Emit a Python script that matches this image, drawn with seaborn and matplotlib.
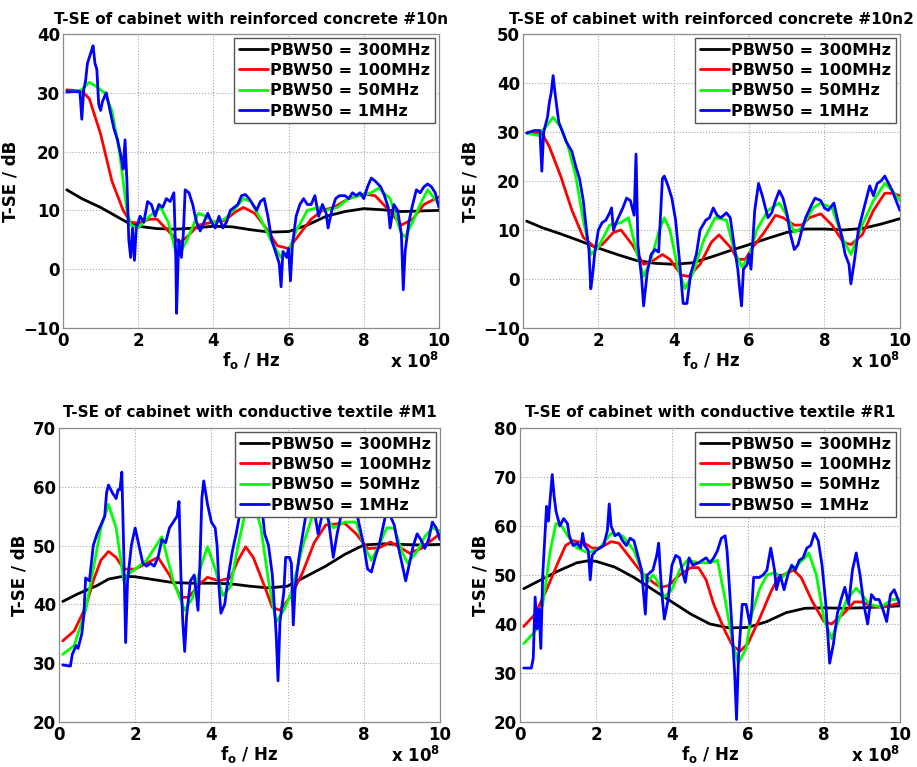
import numpy as np
import pandas as pd
import seaborn as sns
import matplotlib
matplotlib.use("Agg")
import matplotlib.pyplot as plt

# frequency in units of 1e8 Hz, T-SE in dB
# ---- panel 1: reinforced concrete #10n
c1_k_x = [0.1, 0.5, 1.0, 1.5, 1.7, 2.0, 2.5, 3.0, 3.5, 4.0, 4.5, 5.0, 5.5, 6.0, 6.5, 7.0, 7.5, 8.0, 8.5, 9.0, 9.5, 10.0]
c1_k_y = [13.5, 12.0, 10.5, 8.7, 8.0, 7.3, 6.9, 6.8, 7.0, 7.3, 7.2, 6.7, 6.3, 6.4, 7.5, 9.0, 9.8, 10.3, 10.1, 9.8, 9.9, 10.0]
c1_r_x = [0.1, 0.5, 0.7, 1.0, 1.3, 1.6, 1.8, 2.0, 2.3, 2.5, 2.8, 3.1, 3.3, 3.6, 4.0, 4.3, 4.6, 4.8, 5.1, 5.4, 5.7, 6.0, 6.3, 6.6, 6.9, 7.2, 7.6, 8.0, 8.3, 8.6, 9.0, 9.3, 9.6, 10.0]
c1_r_y = [30.5, 30.3, 29.0, 23.0, 15.0, 10.0, 8.0, 7.8, 8.5, 8.5, 6.5, 4.5, 5.5, 7.5, 8.0, 8.3, 9.8, 10.5, 9.5, 7.0, 4.0, 3.5, 6.0, 8.5, 10.0, 10.5, 12.0, 12.8, 12.5, 10.5, 7.5, 8.5, 11.0, 12.3]
c1_g_x = [0.1, 0.5, 0.7, 0.9, 1.1, 1.3, 1.5, 1.7, 1.8, 2.0, 2.3, 2.6, 2.8, 3.0, 3.1, 3.3, 3.6, 3.8, 4.0, 4.3, 4.6, 4.8, 5.0, 5.3, 5.6, 5.8, 6.0, 6.2, 6.5, 6.8, 7.0, 7.3, 7.6, 7.9, 8.2, 8.4, 8.7, 9.0, 9.1, 9.3, 9.5, 9.7, 10.0]
c1_g_y = [30.0, 30.5, 31.8, 31.0, 30.0, 27.0, 20.0, 10.0, 7.5, 7.0, 9.0, 10.5, 8.0, 3.0, 2.5, 5.0, 9.5, 9.0, 8.0, 8.5, 10.5, 12.0, 11.5, 8.0, 4.0, 2.0, 3.0, 6.5, 10.0, 10.5, 10.0, 10.5, 12.0, 12.5, 13.0, 13.8, 12.0, 6.0, 5.5, 8.0, 11.0, 13.5, 11.0]
c1_b_x = [0.1, 0.45, 0.5, 0.55, 0.6, 0.65, 0.75, 0.8, 0.85, 0.9, 0.95, 1.0, 1.05, 1.15, 1.25, 1.35, 1.45, 1.55, 1.6, 1.65, 1.7, 1.75, 1.8, 1.85, 1.9, 1.95, 2.05, 2.15, 2.25, 2.35, 2.45, 2.55, 2.65, 2.75, 2.85, 2.95, 3.0, 3.02, 3.08, 3.15, 3.2, 3.25, 3.35, 3.45, 3.55, 3.65, 3.75, 3.85, 3.95, 4.05, 4.15, 4.25, 4.35, 4.45, 4.55, 4.65, 4.75, 4.85, 4.95, 5.05, 5.15, 5.25, 5.35, 5.45, 5.55, 5.65, 5.75, 5.8, 5.85, 5.95, 6.0, 6.05, 6.1, 6.2, 6.3, 6.4, 6.5, 6.6, 6.7, 6.8, 6.9, 7.0, 7.05, 7.15, 7.25, 7.35, 7.5, 7.6, 7.7, 7.8, 7.9, 8.0, 8.1, 8.2, 8.3, 8.45, 8.55, 8.65, 8.7, 8.8, 8.9, 9.0, 9.05, 9.1, 9.2, 9.3, 9.4, 9.5, 9.6, 9.7, 9.8, 9.9, 10.0]
c1_b_y = [30.2, 30.2, 25.5, 30.5, 32.0, 35.0, 37.0, 38.0, 35.0, 34.0, 28.0, 27.0, 28.5, 30.0, 27.0, 24.0, 22.0, 19.0, 17.0, 22.0, 15.0, 5.0, 2.0, 7.0, 1.5, 7.0, 9.0, 8.0, 11.5, 11.0, 9.0, 11.0, 10.5, 12.0, 11.5, 13.0, 2.0, -7.5, 5.0, 2.0, 6.0, 13.5, 13.0, 11.0, 8.0, 6.5, 8.0, 9.5, 8.0, 7.0, 9.0, 7.0, 8.0, 10.0, 10.5, 11.0, 12.5, 12.7, 12.0, 11.0, 10.0, 11.5, 12.0, 9.0, 5.0, 3.0, 1.0, -3.0, 3.0, 2.0, 3.5, -2.0, 4.0, 9.0, 11.0, 12.0, 11.0, 11.0, 12.5, 9.0, 11.0, 9.5, 7.0, 10.0, 12.0, 12.5, 12.5, 12.0, 13.0, 12.5, 13.0, 12.0, 14.0, 15.5, 15.0, 14.0, 12.5, 10.5, 7.0, 11.0, 10.0, 6.0, -3.5, 3.0, 8.0, 11.0, 13.5, 13.0, 14.0, 14.5, 14.0, 13.0, 10.5]

# ---- panel 2: reinforced concrete #10n2
c2_k_x = [0.1, 0.5, 1.0, 1.5, 2.0, 2.5, 3.0, 3.5, 4.0, 4.5, 5.0, 5.5, 6.0, 6.5, 7.0, 7.5, 8.0, 8.5, 9.0, 9.5, 10.0]
c2_k_y = [11.8, 10.5, 9.2, 7.8, 6.3, 5.0, 3.8, 3.2, 3.0, 3.3, 4.5, 5.8, 7.0, 8.3, 9.5, 10.2, 10.2, 10.0, 10.3, 11.2, 12.3]
c2_r_x = [0.1, 0.5, 0.7, 1.0, 1.3, 1.6, 1.9, 2.1, 2.4, 2.6, 2.9, 3.2, 3.4, 3.7, 3.9, 4.2, 4.4, 4.7, 5.0, 5.2, 5.5, 5.7, 5.9, 6.1, 6.4, 6.7, 6.9, 7.2, 7.4, 7.6, 7.9, 8.2, 8.5, 8.7, 9.0, 9.3, 9.6, 9.8, 10.0]
c2_r_y = [29.8, 29.8, 27.0, 21.0, 14.0, 8.5, 6.5, 7.0, 9.5, 10.0, 7.0, 3.0, 3.5, 5.0, 4.0, 0.8, 0.5, 3.0, 7.5, 9.0, 6.5, 4.0, 4.0, 6.5, 9.5, 13.0, 12.5, 11.0, 11.0, 12.5, 13.3, 11.0, 7.5, 7.0, 9.0, 14.0, 17.5, 17.5, 17.0]
c2_g_x = [0.1, 0.4, 0.6, 0.8, 1.0, 1.2, 1.4, 1.6, 1.8, 2.0, 2.3, 2.6, 2.8, 3.0, 3.2, 3.4, 3.6, 3.75, 3.9, 4.1, 4.3, 4.5, 4.8, 5.1, 5.4, 5.6, 5.8, 6.0, 6.2, 6.5, 6.8, 7.0, 7.2, 7.4, 7.7, 7.9, 8.2, 8.5, 8.7, 9.0, 9.3, 9.6, 9.8, 10.0]
c2_g_y = [29.7, 29.3, 31.0, 33.0, 31.0, 27.0, 21.0, 12.0, 5.0, 6.5, 11.0, 11.5, 12.5, 6.0, 0.5, 4.0, 9.5, 12.5, 10.0, 2.5, -2.0, 1.0, 8.0, 12.5, 12.0, 6.0, 2.5, 4.5, 10.0, 14.0, 15.5, 13.0, 9.5, 10.5, 14.5, 15.5, 14.5, 8.0, 5.0, 11.0, 16.0, 19.5, 18.0, 16.0]
c2_b_x = [0.1, 0.3, 0.45, 0.5, 0.55, 0.65, 0.7, 0.75, 0.8, 0.85, 0.9, 0.95, 1.05, 1.15, 1.3, 1.4, 1.5, 1.6, 1.7, 1.75, 1.8, 1.85, 1.9, 2.0, 2.1, 2.2, 2.3, 2.35, 2.4, 2.5, 2.65, 2.75, 2.85, 2.95, 3.0, 3.05, 3.15, 3.2, 3.3, 3.4, 3.5, 3.6, 3.7, 3.75, 3.85, 3.95, 4.05, 4.15, 4.25, 4.35, 4.45, 4.6, 4.7, 4.85, 4.95, 5.05, 5.15, 5.25, 5.4, 5.5, 5.6, 5.7, 5.75, 5.8, 5.85, 5.95, 6.0, 6.05, 6.15, 6.25, 6.35, 6.5, 6.6, 6.7, 6.8, 6.9, 7.0, 7.1, 7.2, 7.3, 7.4, 7.5, 7.65, 7.75, 7.9, 8.0, 8.1, 8.25, 8.35, 8.45, 8.55, 8.65, 8.7, 8.8, 8.9, 9.0, 9.1, 9.2, 9.3, 9.4, 9.5, 9.6, 9.7, 9.8, 9.9, 10.0]
c2_b_y = [29.8, 30.3, 30.3, 22.0, 30.0, 33.0, 36.0, 38.0, 41.5, 38.0, 35.0, 32.0, 30.0, 28.0, 26.0, 23.0, 20.5, 16.0, 9.0, 6.0, -2.0, 1.0, 5.0, 10.0, 11.5, 12.0, 13.5, 14.5, 10.0, 12.0, 14.5, 16.5, 16.0, 13.0, 25.5, 7.0, 0.0, -5.5, 1.5, 5.0, 6.0, 5.5, 20.5, 21.0, 19.0, 16.5, 12.0, 4.0, -5.0, -5.0, 1.0, 5.0, 10.0, 12.0, 12.5, 14.5, 13.0, 12.5, 13.5, 12.5, 7.0, 2.0, -2.0, -5.5, 2.0, 3.0, 5.0, 2.0, 14.0, 19.5, 17.0, 12.5, 13.5, 16.0, 18.0, 16.5, 13.5, 9.0, 6.0, 7.0, 10.0, 12.5, 15.0, 16.5, 16.0, 14.5, 14.0, 15.5, 12.0, 9.0, 5.0, 3.0, -1.0, 4.0, 10.0, 13.0, 16.0, 19.0, 17.0, 19.5, 20.0, 21.0, 19.5, 18.0, 16.0, 14.0]

# ---- panel 3: conductive textile #M1
c3_k_x = [0.1, 0.5, 1.0, 1.3, 1.7, 2.0, 2.5, 3.0, 3.5, 4.0, 4.5, 5.0, 5.5, 6.0, 6.5, 7.0, 7.5, 8.0, 8.5, 9.0, 9.5, 10.0]
c3_k_y = [40.5, 41.8, 43.2, 44.3, 44.8, 44.7, 44.2, 43.7, 43.6, 43.6, 43.5, 43.1, 42.8, 43.1, 44.8, 46.5, 48.5, 50.1, 50.3, 50.2, 50.1, 50.2]
c3_r_x = [0.1, 0.4, 0.7, 0.9, 1.1, 1.3, 1.5, 1.7, 2.0, 2.3, 2.6, 2.9, 3.2, 3.4, 3.7, 3.9, 4.2, 4.5, 4.7, 4.9, 5.1, 5.4, 5.6, 5.8, 6.1, 6.4, 6.7, 7.0, 7.3, 7.5, 7.8, 8.1, 8.4, 8.7, 9.0, 9.2, 9.5, 9.8, 10.0]
c3_r_y = [33.8, 35.5, 39.5, 44.0, 47.5, 49.0, 48.0, 46.0, 46.0, 47.0, 48.0, 45.0, 41.2, 41.2, 43.5, 44.6, 44.0, 44.5, 47.5, 49.8, 48.0, 43.0, 39.5, 39.0, 41.5, 45.5, 50.5, 53.5, 53.7, 53.8, 52.0, 49.5, 49.6, 50.6, 49.5, 48.7, 49.5, 51.0, 52.0]
c3_g_x = [0.1, 0.4, 0.7, 0.9, 1.1, 1.3, 1.5, 1.7, 1.8, 2.0, 2.3, 2.6, 2.7, 3.0, 3.3, 3.5, 3.75, 3.9, 4.1, 4.3, 4.5, 4.7, 4.9, 5.1, 5.3, 5.5, 5.7, 5.9, 6.1, 6.4, 6.7, 7.0, 7.2, 7.5, 7.8, 8.0, 8.2, 8.4, 8.6, 8.8, 9.0, 9.15, 9.4, 9.6, 9.8, 10.0]
c3_g_y = [31.5, 33.0, 39.0, 46.0, 53.0, 57.0, 53.0, 44.0, 45.0, 46.0, 47.5, 50.5, 51.5, 44.0, 39.0, 41.0, 47.0, 49.8, 46.0, 41.5, 43.0, 50.0, 56.0, 58.0, 53.0, 44.0, 37.0, 39.0, 42.0, 50.0, 56.0, 55.0, 53.0, 54.0, 54.0, 50.0, 47.5, 50.0, 53.0, 53.0, 49.0, 47.0, 49.0, 51.5, 53.0, 52.5]
c3_b_x = [0.1, 0.3, 0.35, 0.45, 0.5, 0.6, 0.65, 0.7, 0.8, 0.9, 1.0, 1.1, 1.2, 1.25, 1.3, 1.4, 1.5, 1.55, 1.6, 1.65, 1.7, 1.75, 1.8, 1.9, 2.0, 2.1, 2.2, 2.3, 2.4, 2.5, 2.6, 2.7, 2.8, 2.9, 3.0, 3.1, 3.15, 3.2, 3.25, 3.3, 3.35, 3.45, 3.55, 3.65, 3.7, 3.75, 3.8, 3.9, 4.0, 4.1, 4.15, 4.2, 4.25, 4.35, 4.45, 4.55, 4.65, 4.75, 4.85, 5.1, 5.3, 5.4, 5.5, 5.6, 5.7, 5.75, 5.8, 5.9, 5.95, 6.05, 6.1, 6.15, 6.2, 6.3, 6.4, 6.5, 6.6, 6.7, 6.8, 6.9, 7.0, 7.1, 7.2, 7.3, 7.4, 7.6, 7.8, 8.0, 8.1, 8.2, 8.3, 8.4, 8.5, 8.6, 8.7, 8.8, 8.9, 9.0, 9.1, 9.2, 9.3, 9.4, 9.5, 9.6, 9.7, 9.8, 9.9, 10.0]
c3_b_y = [29.7, 29.5, 31.5, 33.0, 32.5, 35.0, 38.0, 44.5, 44.0, 50.0, 52.0, 53.5, 55.0, 59.0, 60.3, 59.0, 58.0, 59.5, 59.5, 62.5, 49.0, 33.5, 44.0, 50.0, 53.0, 50.0, 47.0, 46.5, 47.0, 46.5, 48.0, 51.0, 50.5, 53.0, 54.0, 55.0, 57.5, 45.0, 37.0, 32.0, 38.0, 44.0, 45.0, 39.0, 47.0, 58.0, 61.0, 57.0, 54.0, 53.0, 50.0, 43.0, 38.5, 40.0, 45.0, 49.0, 52.0, 55.5, 57.0, 60.0, 58.0, 52.0, 50.0, 45.0, 35.0, 27.0, 37.0, 42.0, 48.0, 48.0, 47.0, 36.5, 43.0, 48.0, 52.0, 56.0, 58.0, 56.0, 52.0, 55.0, 58.0, 53.0, 48.0, 52.0, 55.0, 57.0, 56.0, 50.0, 46.0, 45.5, 48.0, 50.0, 53.0, 56.0, 55.0, 53.5, 50.0, 47.0, 44.0, 47.0, 50.0, 52.0, 51.0, 49.5, 51.0, 54.0, 53.0, 51.0]

# ---- panel 4: conductive textile #R1
c4_k_x = [0.1, 0.5, 1.0, 1.5, 1.8, 2.0, 2.5, 3.0, 3.5, 4.0, 4.5, 5.0, 5.5, 6.0, 6.5, 7.0, 7.5, 8.0, 8.5, 9.0, 9.5, 10.0]
c4_k_y = [47.2, 48.8, 50.8, 52.5, 52.9, 52.8, 51.6, 49.5, 47.0, 44.5, 42.0, 40.0, 39.2, 39.3, 40.5, 42.3, 43.2, 43.3, 43.2, 43.3, 43.5, 43.7]
c4_r_x = [0.1, 0.4, 0.7, 1.0, 1.2, 1.4, 1.7, 1.9, 2.1, 2.4, 2.6, 2.9, 3.2, 3.5, 3.7, 3.9, 4.2, 4.5, 4.7, 4.9, 5.1, 5.4, 5.6, 5.8, 6.0, 6.3, 6.6, 6.8, 7.0, 7.2, 7.4, 7.7, 8.0, 8.2, 8.5, 8.8, 9.0, 9.3, 9.6, 10.0]
c4_r_y = [39.5, 42.0, 47.0, 52.5, 56.0, 57.0, 56.5, 55.5, 55.5, 56.8, 56.5, 53.5, 50.5, 48.5, 47.5, 47.8, 50.0, 51.5, 51.5, 49.0, 44.0, 38.5, 35.5, 34.5, 36.0, 41.0, 46.5, 49.5, 50.3, 51.0, 49.5, 44.5, 40.5, 40.0, 42.0, 44.5, 44.5, 43.5, 43.5, 44.3]
c4_g_x = [0.1, 0.4, 0.6, 0.8, 0.95, 1.1, 1.3, 1.5, 1.8, 2.1, 2.4, 2.7, 3.0, 3.2, 3.35, 3.5, 3.6, 3.8, 4.0, 4.2, 4.4, 4.7, 5.0, 5.2, 5.4, 5.6, 5.75, 5.95, 6.1, 6.3, 6.5, 6.7, 6.9, 7.1, 7.3, 7.5, 7.6, 7.8, 8.0, 8.2, 8.4, 8.6, 8.85, 9.0, 9.2, 9.5, 9.8, 10.0]
c4_g_y = [36.0, 38.5, 44.0, 55.0, 60.5, 60.0, 57.5, 55.5, 54.5, 55.5, 58.5, 58.0, 55.0, 51.0, 48.5, 50.0, 49.0, 45.5, 47.0, 51.0, 53.0, 52.5, 52.5, 53.0, 45.0, 36.0, 32.0, 35.0, 42.0, 47.0, 50.0, 50.5, 49.5, 51.0, 52.0, 53.5, 54.5, 50.0, 41.0, 37.0, 41.0, 45.0, 47.3, 46.0, 44.0, 43.5, 45.0, 45.0]
c4_b_x = [0.1, 0.3, 0.35, 0.4, 0.45, 0.5, 0.55, 0.6, 0.65, 0.7, 0.75, 0.8, 0.85, 0.9, 0.95, 1.05, 1.15, 1.25, 1.3, 1.4, 1.5, 1.6, 1.65, 1.7, 1.8, 1.85, 1.9, 2.0, 2.1, 2.2, 2.3, 2.35, 2.4, 2.5, 2.6, 2.7, 2.8, 2.9, 3.0, 3.1, 3.2, 3.3, 3.35, 3.5, 3.6, 3.65, 3.7, 3.75, 3.8, 3.9, 4.0, 4.1, 4.2, 4.3, 4.35, 4.45, 4.55, 4.7, 4.8, 4.9, 5.0, 5.1, 5.2, 5.3, 5.4, 5.45, 5.55, 5.65, 5.7, 5.75, 5.85, 5.95, 6.05, 6.1, 6.15, 6.3, 6.4, 6.5, 6.6, 6.7, 6.75, 6.85, 6.95, 7.05, 7.15, 7.25, 7.35, 7.45, 7.55, 7.65, 7.75, 7.85, 7.95, 8.05, 8.15, 8.25, 8.35, 8.45, 8.55, 8.65, 8.75, 8.85, 8.95, 9.05, 9.15, 9.25, 9.35, 9.45, 9.55, 9.65, 9.75, 9.85, 9.95, 10.0]
c4_b_y = [31.0, 31.0, 33.0, 45.5, 39.0, 43.0, 35.0, 50.0, 57.0, 64.0, 61.0, 66.0, 70.5, 66.0, 63.0, 60.0, 61.5, 60.5, 58.0, 56.0, 56.5, 55.5, 58.5, 56.0, 55.0, 49.0, 54.0, 55.0, 55.5, 56.0, 59.0, 64.5, 60.0, 58.0, 58.5, 57.0, 56.0, 57.5, 57.0, 54.0, 51.0, 42.0, 50.0, 51.0, 54.0, 56.5, 50.0, 45.0, 41.0, 45.0, 52.0, 54.0, 53.5, 50.0, 48.5, 53.5, 52.0, 52.5, 53.0, 53.5, 52.5, 53.5, 55.0, 57.5, 58.0, 55.0, 43.0, 30.0, 20.5, 33.0, 44.0, 44.0, 40.0, 43.0, 49.5, 49.5, 50.0, 51.0, 55.5, 51.0, 47.0, 50.0, 47.0, 50.0, 52.0, 51.0, 53.0, 53.5, 55.5, 56.0, 58.5, 57.0, 52.0, 44.0, 32.0, 36.0, 42.0, 45.0, 47.5, 44.0, 51.0, 54.5, 50.0, 44.0, 40.0, 46.0, 45.0, 45.0, 43.0, 40.5, 46.0, 47.0, 45.0, 44.0]

titles = ["T-SE of cabinet with reinforced concrete #10n",
          "T-SE of cabinet with reinforced concrete #10n2",
          "T-SE of cabinet with conductive textile #M1",
          "T-SE of cabinet with conductive textile #R1"]
y_limits = [(-10, 40), (-10, 50), (20, 70), (20, 80)]
labels = ["PBW50 = 300MHz", "PBW50 = 100MHz", "PBW50 = 50MHz", "PBW50 = 1MHz"]
colors = ["#000000", "#ff0000", "#00ff00", "#0000ff"]

panels = [
    [(c1_k_x, c1_k_y), (c1_r_x, c1_r_y), (c1_g_x, c1_g_y), (c1_b_x, c1_b_y)],
    [(c2_k_x, c2_k_y), (c2_r_x, c2_r_y), (c2_g_x, c2_g_y), (c2_b_x, c2_b_y)],
    [(c3_k_x, c3_k_y), (c3_r_x, c3_r_y), (c3_g_x, c3_g_y), (c3_b_x, c3_b_y)],
    [(c4_k_x, c4_k_y), (c4_r_x, c4_r_y), (c4_g_x, c4_g_y), (c4_b_x, c4_b_y)],
]

sns.set_style("ticks")
plt.rcParams["font.family"] = ["DejaVu Sans"]
plt.rcParams["font.weight"] = "bold"
plt.rcParams["mathtext.fontset"] = "dejavusans"
plt.rcParams["mathtext.default"] = "bf"
for key in ["text.color", "axes.labelcolor", "xtick.color", "ytick.color"]:
    plt.rcParams[key] = "black"

fig = plt.figure(figsize=(9.17, 7.67), dpi=100)
# axes boxes in figure fractions (left, bottom, width, height)
boxes = [(0.0687, 0.5724, 0.410, 0.3833),
         (0.5703, 0.5724, 0.411, 0.3833),
         (0.0643, 0.0587, 0.4155, 0.3833),
         (0.5670, 0.0587, 0.4144, 0.3833)]

for i, series in enumerate(panels):
    ax = fig.add_axes(boxes[i])
    for (xs, ys), lab, col in zip(series, labels, colors):
        df = pd.DataFrame({"f": xs, "tse": ys})
        sns.lineplot(data=df, x="f", y="tse", color=col, lw=2.0, label=lab,
                     ax=ax, estimator=None, sort=False)
    ax.set_xlim(0, 10)
    ax.set_ylim(*y_limits[i])
    ax.set_xticks(np.arange(0, 11, 2))
    ax.set_yticks(np.arange(y_limits[i][0], y_limits[i][1] + 1, 10))
    ax.grid(True, linestyle=":", color="#a8a8a8", lw=0.8)
    ax.tick_params(direction="in", top=True, right=True, length=0, labelsize=12)
    ax.tick_params(axis="x", pad=3)
    ax.tick_params(axis="y", pad=2)
    for s in ax.spines.values():
        s.set_color("#8c8c8c")
        s.set_linewidth(0.9)
    ax.set_title(titles[i], fontsize=11, fontweight="bold", pad=7 if i < 2 else 8)
    ax.set_xlabel(r"f$_{o}$ / Hz", fontsize=12, fontweight="bold", labelpad=0)
    ax.set_ylabel("T-SE / dB", fontsize=12, fontweight="bold", labelpad=3)
    ax.text(1.0, -0.135, r"x 10$^{8}$", transform=ax.transAxes, ha="right", va="baseline",
            fontsize=12, fontweight="bold")
    leg = ax.legend(loc="upper right", prop={"weight": "bold", "size": 11.5},
                    frameon=True, fancybox=False, borderaxespad=0.25,
                    handlelength=1.8, handletextpad=0.15, labelspacing=0.33,
                    borderpad=0.3)
    leg.get_frame().set_edgecolor("#555555")
    leg.get_frame().set_linewidth(1.0)
    leg.get_frame().set_alpha(1.0)

fig.savefig("out.png", dpi=100)
